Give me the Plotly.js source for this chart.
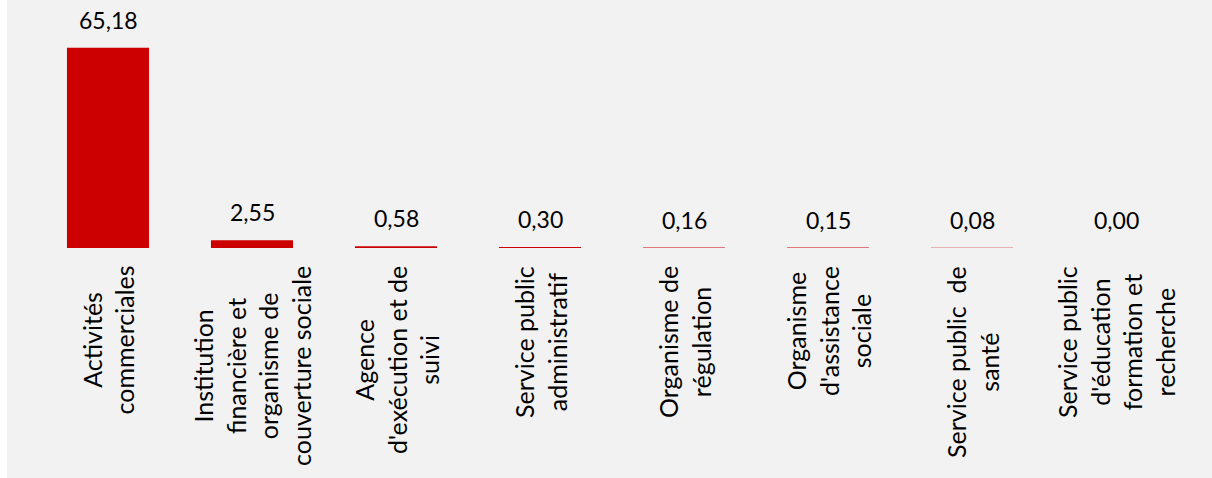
<!DOCTYPE html>
<html>
<head>
<meta charset="utf-8">
<script src="https://cdn.plot.ly/plotly-3.0.1.min.js"></script>
<style>
  html, body { margin: 0; padding: 0; background: #ffffff; }
  #chart { position: absolute; left: 7px; top: 0; width: 1205px; height: 478px; }
</style>
</head>
<body>
<div id="chart"></div>
<script>
// Category keys and their multi-line labels (one entry per bar)
const categories = [
  "Activités commerciales",
  "Institution financière et organisme de couverture sociale",
  "Agence d'exécution et de suivi",
  "Service public administratif",
  "Organisme de régulation",
  "Organisme d'assistance sociale",
  "Service public de santé",
  "Service public d'éducation formation et recherche"
];
const tickLabels = [
  "Activités<br>commerciales",
  "Institution<br>financière et<br>organisme de<br>couverture sociale",
  "Agence<br>d'exécution et de<br>suivi",
  "Service public<br>administratif",
  "Organisme de<br>régulation",
  "Organisme<br>d'assistance<br>sociale",
  "Service public\u00a0 de<br>santé",
  "Service public<br>d'éducation<br>formation et<br>recherche"
];
const values = [65.18, 2.55, 0.58, 0.30, 0.16, 0.15, 0.08, 0.00];

const RED = "#cc0000";
const FONT = "Lato, 'Open Sans', sans-serif";

const fmt = v => v.toFixed(2).replace(".", ",");

const trace = {
  type: "bar",
  x: categories,
  y: values,
  marker: { color: RED, line: { width: 0 } },
  hoverinfo: "skip"
};

const valueLabels = categories.map((c, i) => ({
  x: c, y: values[i], xref: "x", yref: "y",
  text: fmt(values[i]),
  showarrow: false,
  yanchor: "bottom",
  yshift: 12,
  font: { family: FONT, size: 23, color: "#000000" }
}));

const categoryLabels = categories.map((c, i) => ({
  x: c, y: 0, xref: "x", yref: "y",
  text: tickLabels[i],
  showarrow: false,
  textangle: -90,
  align: "center",
  xanchor: "center",
  yanchor: "top",
  yshift: -16,
  font: { family: FONT, size: 25, color: "#000000" }
}));

const layout = {
  width: 1205,
  height: 478,
  margin: { l: 29, r: 24, t: 0, b: 230, pad: 0 },
  paper_bgcolor: "#f2f2f2",
  plot_bgcolor: "#f2f2f2",
  showlegend: false,
  bargap: 0.43,
  xaxis: {
    type: "category",
    showticklabels: false,
    showgrid: false,
    zeroline: false,
    showline: false,
    ticks: ""
  },
  yaxis: {
    range: [0, 80.7],
    visible: false,
    showgrid: false,
    zeroline: false
  },
  annotations: valueLabels.concat(categoryLabels)
};

Plotly.newPlot("chart", [trace], layout, { displayModeBar: false, staticPlot: true });
</script>
</body>
</html>
